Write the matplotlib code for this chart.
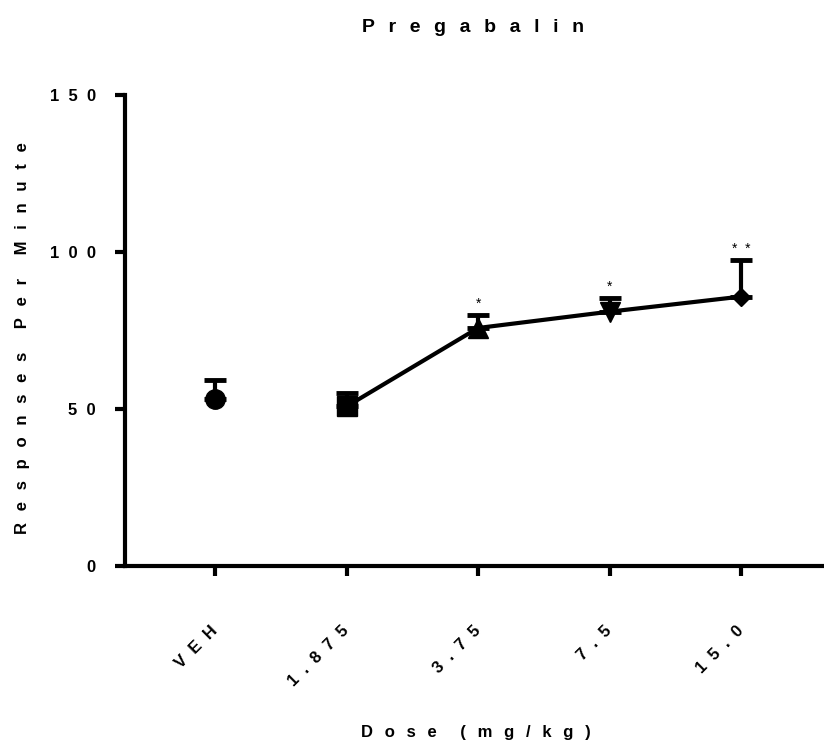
import matplotlib
matplotlib.use("Agg")
import matplotlib.pyplot as plt

plt.rcParams['font.family'] = ['Liberation Sans', 'DejaVu Sans']

# Pregabalin dose-response data (mean, SEM)
doses = ['VEH', '1.875', '3.75', '7.5', '15.0']
means = [53.1, 50.8, 75.8, 81.0, 85.8]
sems = [6.1, 4.4, 4.1, 4.4, 11.7]
markers = ['o', 's', '^', 'v', 'D']
marker_sizes = [14, 14, 15, 15, 9.5]
stars = ['', '', '*', '*', '**']
yticks = [0, 50, 100, 150]

# letter spacing: en space + thin space between letters, twice that between words
GAP = '\u2002\u2009'


def spaced(s, gap='  '):
    # wide letter spacing, like the original graph software
    return (gap * 2).join(gap.join(w) for w in s.split(' '))


fig = plt.figure(figsize=(8.24, 7.45), dpi=100)
ax = fig.add_axes([125 / 824, 1 - 566 / 745, 1 - 125 / 824, (566 - 95) / 745])

xs = list(range(len(doses)))

# the dose groups are joined by a line, vehicle stands alone
ax.plot(xs[1:], means[1:], color='black', lw=3, zorder=2)

for x, m, s, mk, ms, st in zip(xs, means, sems, markers, marker_sizes, stars):
    ax.errorbar([x], [m], yerr=[[0], [s]], fmt=mk, color='black', ms=ms,
                elinewidth=3, capsize=8, capthick=3.5, zorder=3)
    if st:
        ax.annotate(spaced(st), (x, m + s), xytext=(0, 3), textcoords='offset points',
                    ha='center', va='bottom', fontsize=10)

ax.set_xlim(-0.684, 4.63)
ax.set_ylim(0, 150)

ax.set_yticks(yticks)
ax.set_yticklabels([spaced(str(t)) for t in yticks], fontsize=12, fontweight='bold')
ax.set_xticks(xs)
ax.set_xticklabels([spaced(d) for d in doses], fontsize=12, fontweight='bold',
                   rotation=45, ha='right', va='center', rotation_mode='anchor')

for side in ['top', 'right']:
    ax.spines[side].set_visible(False)
for side in ['left', 'bottom']:
    ax.spines[side].set_linewidth(3)

ax.tick_params(axis='y', direction='out', length=7, width=3, pad=14)
ax.tick_params(axis='x', direction='out', length=7, width=3, pad=38)

fig.text(473 / 824, 1 - 32 / 745, spaced('Pregabalin', GAP), ha='center', va='baseline',
         fontsize=14, fontweight='bold')
fig.text(476 / 824, 1 - 737 / 745, spaced('Dose (mg/kg)', GAP),
         ha='center', va='baseline', fontsize=12, fontweight='bold')
fig.text(27 / 824, 1 - 338 / 745, spaced('Responses Per Minute', GAP),
         ha='center', va='baseline', rotation=90, rotation_mode='anchor',
         fontsize=12, fontweight='bold')

fig.savefig('out.png', dpi=100)
